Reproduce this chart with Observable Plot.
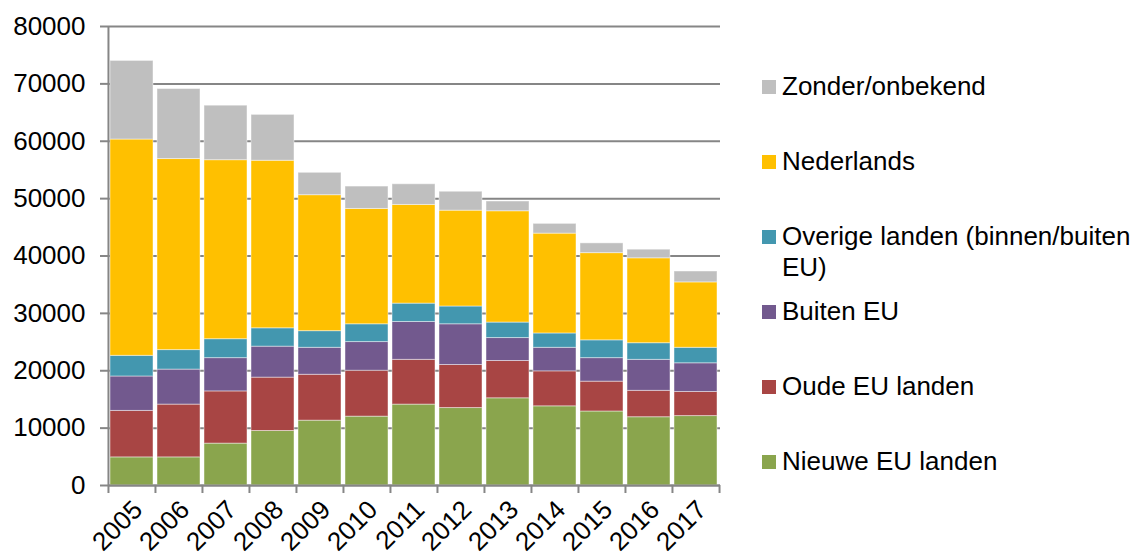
<!DOCTYPE html>
<html>
<head>
<meta charset="utf-8">
<script src="https://cdn.jsdelivr.net/npm/d3@7"></script>
<script src="https://cdn.jsdelivr.net/npm/@observablehq/plot@0.6"></script>
<style>
  html, body { margin: 0; padding: 0; background: #fff; }
  #wrap { position: relative; width: 1143px; height: 560px; font-family: "Liberation Sans", Arial, sans-serif; }
  #legend { position: absolute; left: 762px; top: 0; width: 381px; }
  .item { position: absolute; left: 0; display: flex; align-items: flex-start; font-size: 26px; line-height: 31px; color: #000; }
  .sw { width: 14px; height: 14px; margin-top: 9px; margin-right: 6px; flex: none; }
</style>
</head>
<body>
<div id="wrap"><div id="chart"></div><div id="legend"></div></div>
<script>
const years = ["2005","2006","2007","2008","2009","2010","2011","2012","2013","2014","2015","2016","2017"];
const seriesNames = ["Nieuwe EU landen","Oude EU landen","Buiten EU","Overige landen (binnen/buiten EU)","Nederlands","Zonder/onbekend"];
const seriesColors = ["#8AA54D","#A84544","#72598E","#4397AF","#FFC000","#BFBFBF"];
const nieuweEU   = [4900, 4900, 7300, 9500, 11300, 12000, 14100, 13500, 15200, 13800, 12900, 11900, 12100];
const oudeEU     = [8100, 9200, 9100, 9300, 8000, 8000, 7800, 7500, 6500, 6100, 5200, 4600, 4200];
const buitenEU   = [6000, 6100, 5800, 5400, 4700, 5000, 6600, 7100, 4000, 4100, 4100, 5400, 5000];
const overige    = [3600, 3400, 3300, 3200, 2900, 3100, 3200, 3100, 2700, 2500, 3100, 2900, 2700];
const nederlands = [37700, 33300, 31200, 29200, 23700, 20100, 17200, 16700, 19400, 17400, 15200, 14800, 11400];
const zonder     = [13700, 12200, 9500, 8000, 3900, 3900, 3600, 3300, 1700, 1700, 1700, 1500, 1900];
const yTicks = [0, 10000, 20000, 30000, 40000, 50000, 60000, 70000, 80000];

const seriesValues = [nieuweEU, oudeEU, buitenEU, overige, nederlands, zonder];
const table = [];
seriesNames.forEach((s, i) => years.forEach((y, j) => table.push({year: y, series: s, value: seriesValues[i][j]})));

const W = 730, ML = 108, MR = 10;
const half = (W - ML - MR) / years.length / 2;
const grey = "#868686";
const font = "Liberation Sans, Arial, sans-serif";

const chart = Plot.plot({
  width: W, height: 560,
  marginLeft: ML, marginRight: MR, marginTop: 26, marginBottom: 75,
  style: {fontFamily: font, fontSize: "26px", color: "#000", background: "#fff"},
  x: {domain: years, paddingInner: 0.08, paddingOuter: 0.04, label: null},
  y: {domain: [0, 80000], label: null},
  color: {domain: seriesNames, range: seriesColors},
  marks: [
    Plot.gridY(yTicks, {stroke: grey, strokeOpacity: 1, strokeWidth: 2}),
    Plot.barY(table, {x: "year", y: "value", fill: "series", stroke: "#fff", strokeOpacity: 0.45, strokeWidth: 1}),
    Plot.ruleY([0], {stroke: grey, strokeWidth: 2}),
    Plot.ruleX([years[0]], {x: d => d, dx: -half, y1: 0, y2: 80000, stroke: grey, strokeWidth: 2}),
    Plot.axisY(yTicks, {tickSize: 8, tickPadding: 15, stroke: grey, strokeWidth: 2, fontSize: 26, fill: "#000", tickFormat: d => String(d)}),
    Plot.axisX({tickSize: 8, text: null, dx: -half, stroke: grey, strokeWidth: 2}),
    Plot.axisX([years[years.length - 1]], {tickSize: 8, text: null, dx: half, stroke: grey, strokeWidth: 2}),
    Plot.axisX({tickSize: 0, tickRotate: -45, tickPadding: 20, fontSize: 26, fill: "#000", dx: 6})
  ]
});
document.getElementById("chart").appendChild(chart);

const legend = document.getElementById("legend");
const legendOrder = seriesNames.slice().reverse();
legendOrder.forEach((name, i) => {
  const item = document.createElement("div");
  item.className = "item";
  item.style.top = (71 + i * 75) + "px";
  const sw = document.createElement("div");
  sw.className = "sw";
  sw.style.background = seriesColors[seriesNames.indexOf(name)];
  const tx = document.createElement("div");
  tx.textContent = name;
  tx.style.width = "358px";
  item.appendChild(sw); item.appendChild(tx);
  legend.appendChild(item);
});
</script>
</body>
</html>
